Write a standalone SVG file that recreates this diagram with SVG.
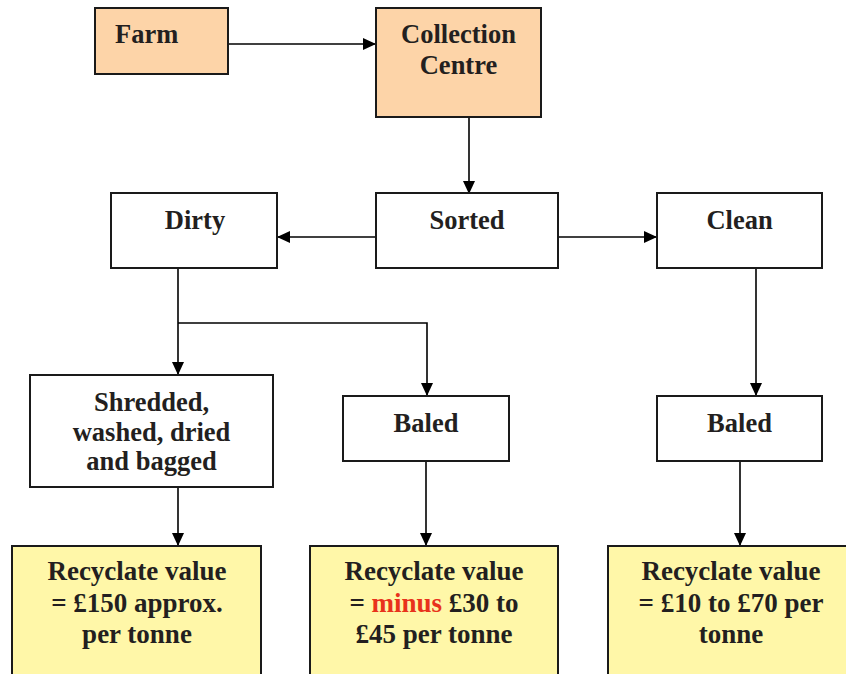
<svg xmlns="http://www.w3.org/2000/svg" width="846" height="674" viewBox="0 0 846 674">
  <style>
    .box { stroke: #1a1a1a; stroke-width: 2; }
    .plain { fill: #ffffff; }
    .source { fill: #fdd4a8; }
    .value { fill: #fff7a8; }
    .lbl { font-family: "Liberation Serif", "Times New Roman", serif; font-weight: bold; font-size: 26.5px; fill: #231f20; text-anchor: middle; }
    .big { font-size: 27px; }
    .edge { fill: none; stroke: #000000; stroke-width: 1.6; }
    .neg { fill: #e8321c; }
  </style>
  <defs>
    <marker id="arrow" markerUnits="userSpaceOnUse" markerWidth="14" markerHeight="14" viewBox="0 0 14 14" refX="13" refY="7" orient="auto">
      <path d="M0,1 L13,7 L0,13 Z" fill="#000000"/>
    </marker>
  </defs>

  <rect width="846" height="674" fill="#ffffff"/>

  <!-- connectors -->
  <g id="connectors">
    <line class="edge" x1="228" y1="44" x2="376" y2="44" marker-end="url(#arrow)"/>
    <line class="edge" x1="469" y1="117" x2="469" y2="194" marker-end="url(#arrow)"/>
    <line class="edge" x1="376" y1="237" x2="277" y2="237" marker-end="url(#arrow)"/>
    <line class="edge" x1="558" y1="237" x2="657" y2="237" marker-end="url(#arrow)"/>
    <line class="edge" x1="178" y1="258" x2="178" y2="375" marker-end="url(#arrow)"/>
    <polyline class="edge" points="178,323 427,323 427,396" marker-end="url(#arrow)"/>
    <line class="edge" x1="756" y1="268" x2="756" y2="396" marker-end="url(#arrow)"/>
    <line class="edge" x1="178" y1="476" x2="178" y2="546" marker-end="url(#arrow)"/>
    <line class="edge" x1="426" y1="461" x2="426" y2="546" marker-end="url(#arrow)"/>
    <line class="edge" x1="740" y1="461" x2="740" y2="546" marker-end="url(#arrow)"/>
  </g>

  <g id="farm">
    <rect class="box source" x="95" y="8" width="133" height="66"/>
    <text class="lbl" x="115" y="43" style="text-anchor:start">Farm</text>
  </g>

  <g id="collection-centre">
    <rect class="box source" x="376" y="8" width="165" height="109"/>
    <text class="lbl" x="458.5" y="43">Collection</text>
    <text class="lbl" x="458.5" y="74">Centre</text>
  </g>

  <g id="dirty">
    <rect class="box plain" x="111" y="193" width="166" height="75"/>
    <text class="lbl" x="195" y="229">Dirty</text>
  </g>

  <g id="sorted">
    <rect class="box plain" x="376" y="193" width="182" height="75"/>
    <text class="lbl" x="467" y="229">Sorted</text>
  </g>

  <g id="clean">
    <rect class="box plain" x="657" y="193" width="165" height="75"/>
    <text class="lbl" x="739.5" y="229">Clean</text>
  </g>

  <g id="shredded">
    <rect class="box plain" x="30" y="375" width="243" height="112"/>
    <text class="lbl" x="151.5" y="411">Shredded,</text>
    <text class="lbl" x="151.5" y="441">washed, dried</text>
    <text class="lbl" x="151.5" y="470">and bagged</text>
  </g>

  <g id="baled-dirty">
    <rect class="box plain" x="343" y="396" width="166" height="65"/>
    <text class="lbl" x="426" y="432">Baled</text>
  </g>

  <g id="baled-clean">
    <rect class="box plain" x="657" y="396" width="165" height="65"/>
    <text class="lbl" x="739.5" y="432">Baled</text>
  </g>

  <g id="value-shredded">
    <rect class="box value" x="12" y="546" width="249" height="140"/>
    <text class="lbl big" x="137" y="580">Recyclate value</text>
    <text class="lbl big" x="137" y="612">= £150 approx.</text>
    <text class="lbl big" x="137" y="643">per tonne</text>
  </g>

  <g id="value-baled-dirty">
    <rect class="box value" x="310" y="546" width="248" height="140"/>
    <text class="lbl big" x="434" y="580">Recyclate value</text>
    <text class="lbl big" x="434" y="612">= <tspan class="neg">minus</tspan> £30 to</text>
    <text class="lbl big" x="434" y="643">£45 per tonne</text>
  </g>

  <g id="value-baled-clean">
    <rect class="box value" x="608" y="546" width="246" height="140"/>
    <text class="lbl big" x="731" y="580">Recyclate value</text>
    <text class="lbl big" x="731" y="612">= £10 to £70 per</text>
    <text class="lbl big" x="731" y="643">tonne</text>
  </g>
</svg>
